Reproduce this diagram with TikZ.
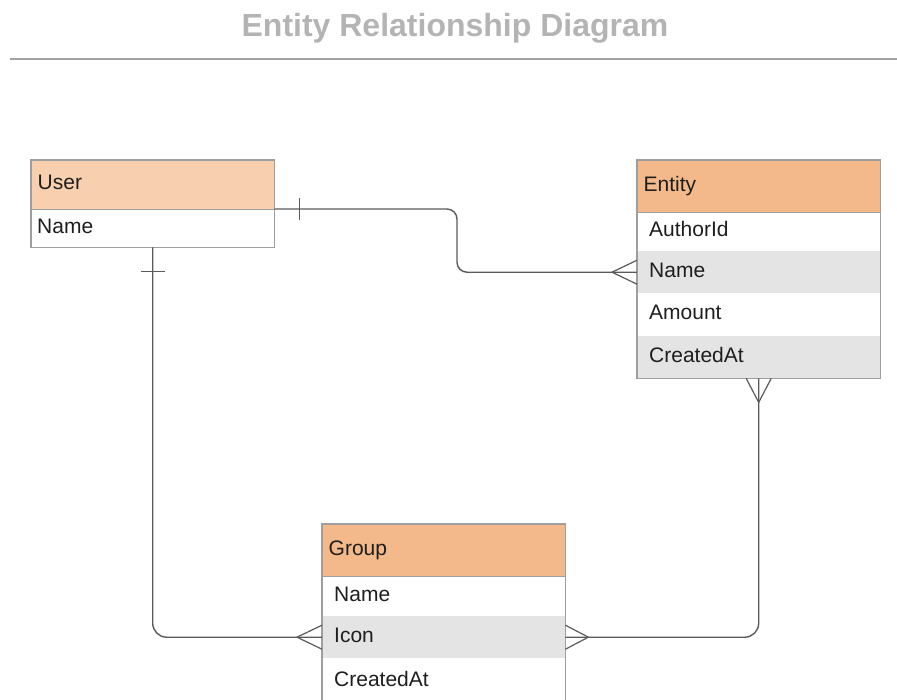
\documentclass[tikz,border=0pt]{standalone}
\usepackage{fontspec}
\setmainfont{Liberation Sans}
\usetikzlibrary{calc}

\definecolor{hdrlight}{HTML}{F8D0B0}
\definecolor{hdr}{HTML}{F4B98A}
\definecolor{rowgray}{HTML}{E4E4E4}
\definecolor{edgegray}{HTML}{9E9E9E}
\definecolor{wire}{HTML}{5A5A5A}
\definecolor{titlegray}{HTML}{B4B4B4}
\definecolor{ink}{HTML}{1E1E1E}

\begin{document}
\begin{tikzpicture}[x=1pt,y=-1pt,
  cellbase/.style={anchor=north west, rectangle, inner ysep=0pt,
    text height=15pt, text depth=5pt, align=left,
    font=\fontsize{21}{25}\selectfont, text=ink, minimum height=#1},
  hcell/.style={cellbase=#1, inner xsep=6.5pt, text width=230pt},
  ucell/.style={cellbase=#1, inner xsep=6pt, text width=231pt},
  rcell/.style={cellbase=#1, inner xsep=12pt, text width=219pt},
  boxedge/.style={draw=edgegray, line width=1.5pt},
  wireline/.style={draw=wire, line width=1.4pt},
  crow/.style={draw=wire, line width=1.2pt, line join=miter},
]
\clip (0,0) rectangle (897,699);

% heading and rule
\node[font=\bfseries\fontsize{32}{38}\selectfont, text=titlegray, anchor=base]
  (title) at (455,36) {Entity Relationship Diagram};
\coordinate (ruleL) at (10,59);
\coordinate (ruleR) at (897,59);
\draw[titlegray!90!black, line width=2.5pt] (ruleL) -- (ruleR);

% User table
\node[hcell=49, fill=hdrlight] (user) at (31,160) {User};
\node[ucell=38] (user-name) at (31,209) {Name};
\draw[boxedge] (user.north west) rectangle (user-name.south east);
\draw[boxedge] (user.south west) -- (user.south east);

% Entity table
\node[hcell=52, fill=hdr] (entity) at (637,160) {Entity};
\node[rcell=39] (entity-authorid) at (637,212) {AuthorId};
\node[rcell=42, fill=rowgray] (entity-name) at (637,251) {Name};
\node[rcell=43] (entity-amount) at (637,293) {Amount};
\node[rcell=42, fill=rowgray] (entity-createdat) at (637,336) {CreatedAt};
\draw[boxedge] (entity.north west) rectangle (entity-createdat.south east);
\draw[boxedge] (entity.south west) -- (entity.south east);

% Group table
\node[hcell=52, fill=hdr] (group) at (322,524) {Group};
\node[rcell=40] (group-name) at (322,576) {Name};
\node[rcell=42, fill=rowgray] (group-icon) at (322,616) {Icon};
\node[rcell=46] (group-createdat) at (322,658) {CreatedAt};
\draw[boxedge] (group.north west) rectangle (group-createdat.south east);
\draw[boxedge] (group.south west) -- (group.south east);

% User (one) -- Entity (many)
\coordinate (j1) at (457,240);
\draw[wireline, rounded corners=10pt]
  (user-name.north east) -| (j1) |- (entity-name.west);
\draw[crow] ($(user-name.north east)+(25,-11)$) -- ($(user-name.north east)+(25,11)$);
\draw[crow] ($(entity-name.west)+(0,-12)$) -- ($(entity-name.west)+(-25,0)$)
  -- ($(entity-name.west)+(0,12)$);

% User (one) -- Group (many)
\draw[wireline, rounded corners=14pt]
  (user-name.south) |- (group-icon.west);
\draw[crow] ($(user-name.south)+(-12,24)$) -- ($(user-name.south)+(12,24)$);
\draw[crow] ($(group-icon.west)+(0,-12)$) -- ($(group-icon.west)+(-25,0)$)
  -- ($(group-icon.west)+(0,12)$);

% Entity (many) -- Group (many)
\draw[wireline, rounded corners=14pt]
  (entity-createdat.south) |- (group-icon.east);
\draw[crow] ($(entity-createdat.south)+(-12.5,0)$) -- ($(entity-createdat.south)+(0,24)$)
  -- ($(entity-createdat.south)+(12.5,0)$);
\draw[crow] ($(group-icon.east)+(0,-12)$) -- ($(group-icon.east)+(23,0)$)
  -- ($(group-icon.east)+(0,12)$);
\end{tikzpicture}
\end{document}
